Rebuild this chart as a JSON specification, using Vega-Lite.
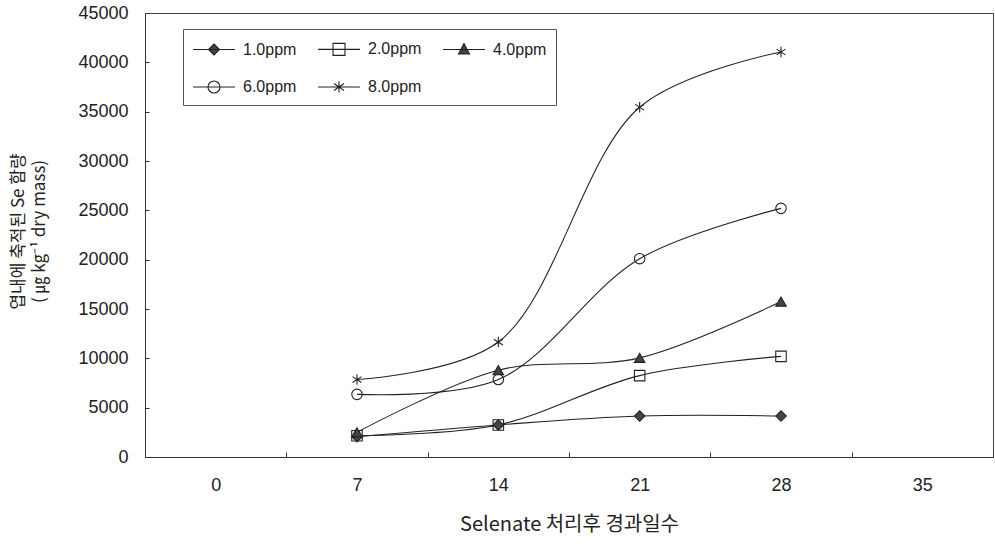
{
  "$schema": "https://vega.github.io/schema/vega-lite/v6.json",
  "width": 848,
  "height": 444,
  "autosize": "none",
  "padding": {"left": 145, "top": 13, "right": 2, "bottom": 88},
  "background": "white",
  "config": {
    "view": {"stroke": "#444", "strokeWidth": 1},
    "font": "Liberation Sans"
  },
  "data": {
    "values": [
      {"day": 7, "series": "1.0ppm", "val": 2050},
      {"day": 14, "series": "1.0ppm", "val": 3250},
      {"day": 21, "series": "1.0ppm", "val": 4150},
      {"day": 28, "series": "1.0ppm", "val": 4150},
      {"day": 7, "series": "2.0ppm", "val": 2150},
      {"day": 14, "series": "2.0ppm", "val": 3250},
      {"day": 21, "series": "2.0ppm", "val": 8250},
      {"day": 28, "series": "2.0ppm", "val": 10200},
      {"day": 7, "series": "4.0ppm", "val": 2500},
      {"day": 14, "series": "4.0ppm", "val": 8800},
      {"day": 21, "series": "4.0ppm", "val": 10050},
      {"day": 28, "series": "4.0ppm", "val": 15750},
      {"day": 7, "series": "6.0ppm", "val": 6350},
      {"day": 14, "series": "6.0ppm", "val": 7850},
      {"day": 21, "series": "6.0ppm", "val": 20100},
      {"day": 28, "series": "6.0ppm", "val": 25200},
      {"day": 7, "series": "8.0ppm", "val": 7850},
      {"day": 14, "series": "8.0ppm", "val": 11650},
      {"day": 21, "series": "8.0ppm", "val": 35450},
      {"day": 28, "series": "8.0ppm", "val": 41050}
    ]
  },
  "encoding": {
    "x": {
      "field": "day",
      "type": "ordinal",
      "bandPosition": 0.5,
      "scale": {"type": "band", "domain": [0, 7, 14, 21, 28, 35], "paddingInner": 0, "paddingOuter": 0},
      "axis": {
        "title": "Selenate 처리후 경과일수",
        "titleFont": "Noto Sans CJK KR",
        "titleFontSize": 20,
        "titleFontWeight": "normal",
        "titleColor": "#222",
        "titlePadding": 20,
        "labelAngle": 0,
        "labelFont": "Liberation Sans",
        "labelFontSize": 18,
        "labelColor": "#222",
        "labelPadding": 24,
        "tickBand": "extent",
        "tickSize": -5,
        "tickColor": "#333",
        "domainColor": "#333",
        "grid": false
      }
    },
    "y": {
      "field": "val",
      "type": "quantitative",
      "scale": {"domain": [0, 45000], "nice": false},
      "axis": {
        "values": [0, 5000, 10000, 15000, 20000, 25000, 30000, 35000, 40000, 45000],
        "format": "d",
        "title": ["엽내에 축적된 Se 함량", "( ㎍ kg⁻¹ dry mass)"],
        "titleFont": "Noto Sans CJK KR",
        "titleFontSize": 17,
        "titleFontWeight": "normal",
        "titleColor": "#222",
        "titleLineHeight": 21,
        "titleAngle": -90,
        "titleAlign": "center",
        "titleBaseline": "top",
        "titleX": -135,
        "titleY": 218,
        "labelFont": "Liberation Sans",
        "labelFontSize": 18,
        "labelColor": "#222",
        "labelPadding": 21,
        "tickSize": -4,
        "tickColor": "#333",
        "domainColor": "#333",
        "grid": false
      }
    }
  },
  "layer": [
    {
      "mark": {"type": "line", "interpolate": "catmull-rom", "stroke": "#222", "strokeWidth": 1.1},
      "encoding": {"detail": {"field": "series", "type": "nominal"}}
    },
    {
      "mark": {"type": "point", "size": 110, "opacity": 1, "stroke": "#222", "strokeWidth": 1.1},
      "encoding": {
        "shape": {
          "field": "series",
          "type": "nominal",
          "scale": {
            "domain": ["1.0ppm", "2.0ppm", "4.0ppm", "6.0ppm", "8.0ppm"],
            "range": ["diamond", "square", "triangle-up", "circle", "M0,-1V1M-0.85,-0.55L0.85,0.55M-0.85,0.55L0.85,-0.55"]
          },
          "legend": null
        },
        "fill": {
          "field": "series",
          "type": "nominal",
          "scale": {
            "domain": ["1.0ppm", "2.0ppm", "4.0ppm", "6.0ppm", "8.0ppm"],
            "range": ["#444", "transparent", "#444", "transparent", "transparent"]
          },
          "legend": null
        }
      }
    },
    {
      "mark": {"type": "point", "size": 0, "opacity": 1, "stroke": "#222", "strokeWidth": 1.1},
      "encoding": {
        "shape": {
          "field": "series",
          "type": "nominal",
          "scale": {
            "domain": ["1.0ppm", "2.0ppm", "4.0ppm", "6.0ppm", "8.0ppm"],
            "range": [
              "M-1,0H3.2M1.1,-0.55L1.65,0L1.1,0.55L0.55,0Z",
              "M-1,0H3.2M0.5,-0.6H1.7V0.6H0.5Z",
              "M-1,0H3.2M1.1,-0.6L1.65,0.45H0.55Z",
              "M-1,0H3.2M1.7,0A0.6,0.6,0,1,1,0.5,0A0.6,0.6,0,1,1,1.7,0Z",
              "M-1,0H3.2M1.1,-0.55V0.55M0.6,-0.35L1.6,0.35M0.6,0.35L1.6,-0.35"
            ]
          },
          "legend": {
            "title": null,
            "orient": "none",
            "legendX": 38,
            "legendY": 16,
            "direction": "horizontal",
            "columns": 3,
            "padding": 9,
            "strokeColor": "#555",
            "fillColor": "white",
            "symbolSize": 400,
            "symbolOpacity": 1,
            "symbolStrokeColor": "#222",
            "symbolStrokeWidth": 1.1,
            "labelOffset": 29,
            "columnPadding": 18,
            "rowPadding": 18,
            "labelFont": "Liberation Sans",
            "labelFontSize": 16,
            "labelColor": "#222",
            "encode": {"symbols": {"update": {"stroke": {"value": "#222"}, "strokeWidth": {"value": 1.1}}}}
          }
        },
        "fill": {
          "field": "series",
          "type": "nominal",
          "scale": {
            "domain": ["1.0ppm", "2.0ppm", "4.0ppm", "6.0ppm", "8.0ppm"],
            "range": ["#444", "transparent", "#444", "transparent", "transparent"]
          },
          "legend": {
            "title": null,
            "orient": "none",
            "legendX": 38,
            "legendY": 16,
            "direction": "horizontal",
            "columns": 3,
            "padding": 9,
            "strokeColor": "#555",
            "fillColor": "white",
            "symbolSize": 400,
            "symbolOpacity": 1,
            "symbolStrokeColor": "#222",
            "symbolStrokeWidth": 1.1,
            "labelOffset": 29,
            "columnPadding": 18,
            "rowPadding": 18,
            "labelFont": "Liberation Sans",
            "labelFontSize": 16,
            "labelColor": "#222",
            "encode": {"symbols": {"update": {"stroke": {"value": "#222"}, "strokeWidth": {"value": 1.1}}}}
          }
        }
      }
    }
  ],
  "resolve": {"scale": {"shape": "independent", "fill": "independent"}}
}
